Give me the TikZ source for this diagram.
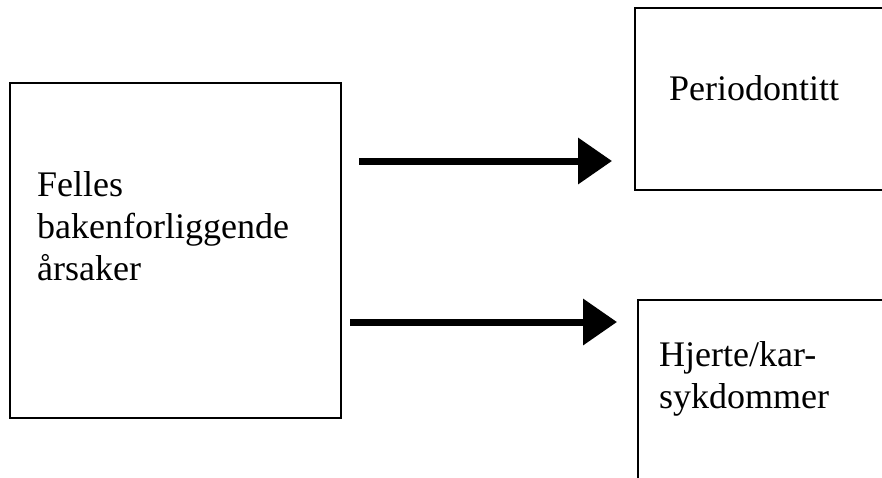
\documentclass[tikz,border=0pt]{standalone}
\usepackage{fontspec}
\setmainfont{Liberation Serif}
\usetikzlibrary{arrows.meta}
\begin{document}
\begin{tikzpicture}[x=1pt,y=-1pt,
  box/.style={draw=black, line width=1.6pt, inner sep=0pt, anchor=north west},
  lbl/.style={font=\fontsize{36}{42}\selectfont, align=left, inner sep=0pt, anchor=base west},
  arr/.style={line width=7pt, -{Triangle[length=34pt,width=45pt]}}]
\useasboundingbox (0,0) rectangle (882,477);
\clip (0,0) rectangle (882,477);
\node[box, minimum width=331pt, minimum height=335pt] (cause) at (9,82) {};
\node[box, minimum width=260pt, minimum height=182pt] (perio) at (634,7) {};
\node[box, minimum width=260pt, minimum height=200pt] (heart) at (637,299) {};
\node[lbl] (causetxt) at (37,280) {Felles\\bakenforliggende\\årsaker};
\node[lbl] (periotxt) at (669,100) {Periodontitt};
\node[lbl] (hearttxt) at (659,408) {Hjerte/kar-\\sykdommer};
\coordinate (a1s) at (359,161);
\coordinate (a1e) at (612,161);
\coordinate (a2s) at (350,322);
\coordinate (a2e) at (617,322);
\draw[arr] (a1s) -- (a1e);
\draw[arr] (a2s) -- (a2e);
\end{tikzpicture}
\end{document}
